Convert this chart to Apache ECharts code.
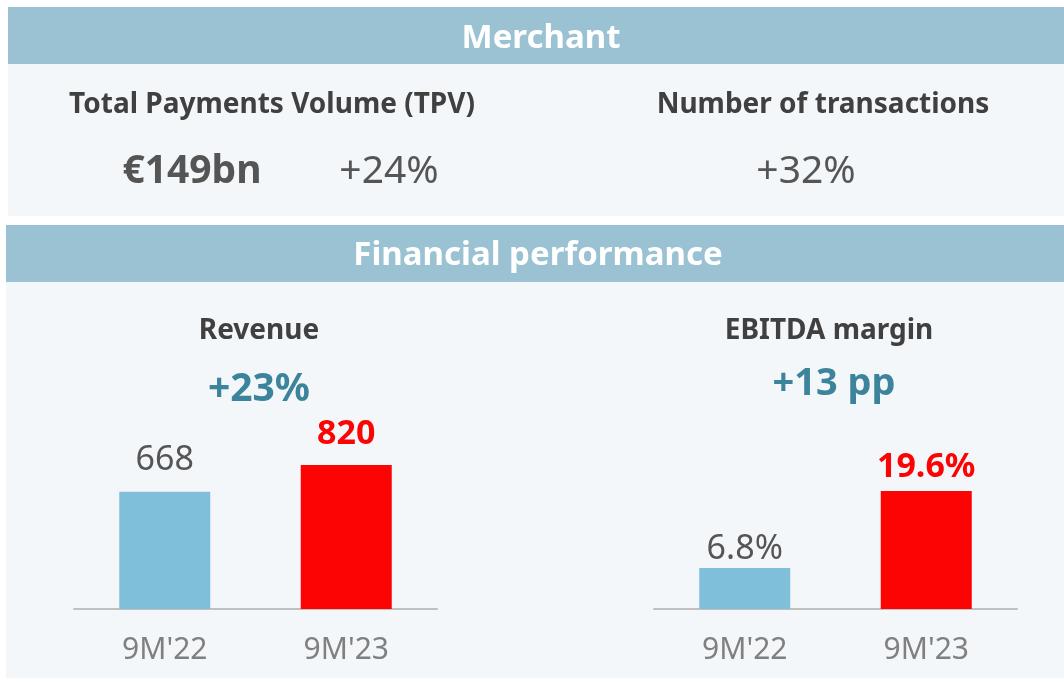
<!DOCTYPE html>
<html>
<head>
<meta charset="utf-8">
<script src="https://cdn.jsdelivr.net/npm/echarts@6/dist/echarts.min.js"></script>
<style>
  html, body { margin: 0; padding: 0; background: #ffffff; }
  #chart { width: 1064px; height: 678px; }
</style>
</head>
<body>
<div id="chart"></div>
<script>
// Periods compared
const periods = ["9M'22", "9M'23"];
// Revenue (EUR mn)
const revenue = [668, 820];
// EBITDA margin (%)
const ebitdaMargin = [6.8, 19.6];
// Headline merchant KPIs
const tpvValue = '€149bn';
const tpvGrowth = '+24%';
const txGrowth = '+32%';
const revenueGrowth = '+23%';
const marginChange = '+13 pp';

const FONT = '"Noto Sans", "Open Sans", sans-serif';
const HEADER = '#9bc2d3';
const PANEL = '#f4f7fa';
const DARK = '#404040';
const VALUE = '#555555';
const AXIS_TXT = '#808080';
const TEAL = '#3b849b';
const BLUE = '#80bfd9';
const RED = '#fd0404';

const chart = echarts.init(document.getElementById('chart'), null, { renderer: 'canvas' });

function txt(x, y, text, size, weight, color) {
  return {
    type: 'text', x: x, y: y, z: 10,
    style: {
      text: text, fill: color, font: weight + ' ' + size + 'px ' + FONT,
      textAlign: 'center', textVerticalAlign: 'middle'
    }
  };
}
function box(x, y, w, h, color) {
  return { type: 'rect', z: -10, shape: { x: x, y: y, width: w, height: h }, style: { fill: color } };
}

// Bar labels: last period highlighted in bold red
function barData(values, fmt, dists) {
  return values.map((v, i) => ({
    value: v,
    itemStyle: { color: i === values.length - 1 ? RED : BLUE },
    label: {
      show: true, position: 'top', distance: dists[i],
      formatter: fmt,
      fontFamily: FONT,
      fontSize: 34,
      fontWeight: i === values.length - 1 ? 'bold' : 'normal',
      color: i === values.length - 1 ? RED : VALUE
    }
  }));
}

const catAxis = (gi) => ({
  type: 'category', gridIndex: gi, data: periods,
  axisLine: { lineStyle: { color: '#c0c0c0', width: 2 } },
  axisTick: { show: false },
  axisLabel: { color: AXIS_TXT, fontSize: 30, fontFamily: FONT, margin: 26 }
});

chart.setOption({
  animation: false,
  graphic: [
    box(8, 7, 1056, 57, HEADER),
    box(8, 64, 1056, 152, PANEL),
    box(6, 225, 1058, 57, HEADER),
    box(6, 282, 1058, 396, PANEL),
    txt(541, 39, 'Merchant', 33, 'bold', '#ffffff'),
    txt(538, 256, 'Financial performance', 33, 'bold', '#ffffff'),
    txt(272, 105, 'Total Payments Volume (TPV)', 28, 'bold', DARK),
    txt(823, 105, 'Number of transactions', 28, 'bold', DARK),
    txt(192, 172, tpvValue, 39, 'bold', VALUE),
    txt(389, 172, tpvGrowth, 39, 'normal', VALUE),
    txt(806, 172, txGrowth, 39, 'normal', VALUE),
    txt(259, 331, 'Revenue', 28, 'bold', DARK),
    txt(259, 390, revenueGrowth, 39, 'bold', TEAL),
    txt(829, 331, 'EBITDA margin', 28, 'bold', DARK),
    txt(834, 384, marginChange, 38, 'bold', TEAL)
  ],
  grid: [
    { left: 74, width: 363, top: 609 - 175.5, height: 175.5 },
    { left: 654, width: 363, top: 609 - 180.75, height: 180.75 }
  ],
  xAxis: [catAxis(0), catAxis(1)],
  yAxis: [
    { type: 'value', gridIndex: 0, min: 0, max: 1000, show: false, splitLine: { show: false } },
    { type: 'value', gridIndex: 1, min: 0, max: 30, show: false, splitLine: { show: false } }
  ],
  series: [
    {
      type: 'bar', xAxisIndex: 0, yAxisIndex: 0, barWidth: 91,
      data: barData(revenue, p => String(p.value), [14, 14])
    },
    {
      type: 'bar', xAxisIndex: 1, yAxisIndex: 1, barWidth: 91,
      data: barData(ebitdaMargin, p => p.value.toFixed(1) + '%', [2, 7])
    }
  ]
});
</script>
</body>
</html>
